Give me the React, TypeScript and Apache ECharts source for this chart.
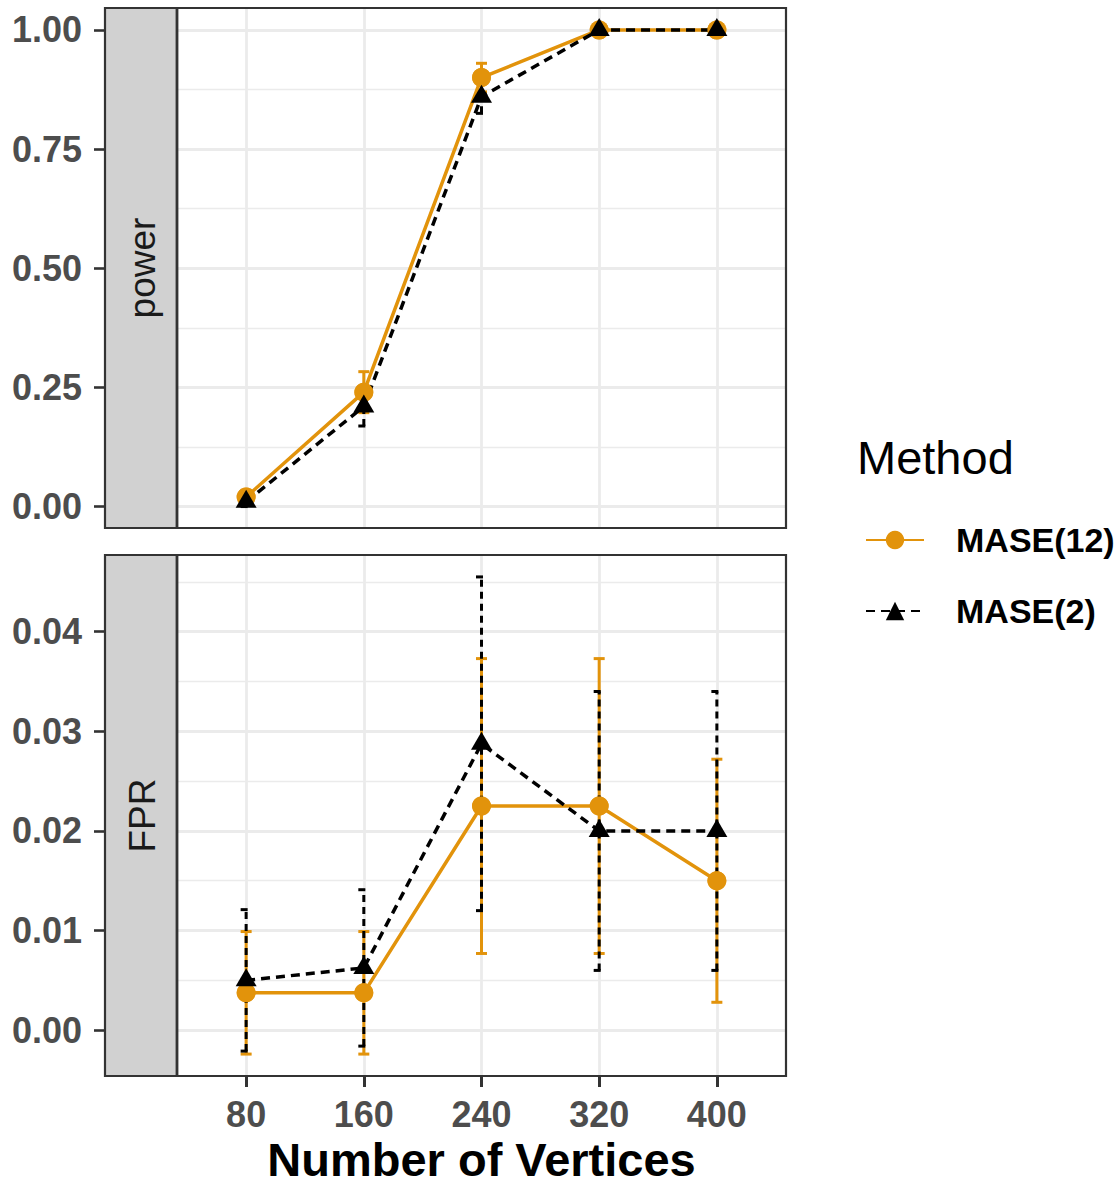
import React, { useEffect, useRef } from "react";
import * as echarts from "echarts";

const vertices = [80, 160, 240, 320, 400];

const powerMase12 = [0.02, 0.24, 0.9, 1.0, 1.0];
const powerMase12Lo = [0.006, 0.197, 0.87, 1.0, 1.0];
const powerMase12Hi = [0.034, 0.283, 0.93, 1.0, 1.0];
const powerMase2 = [0.01, 0.21, 0.86, 1.0, 1.0];
const powerMase2Lo = [0.0, 0.169, 0.825, 1.0, 1.0];
const powerMase2Hi = [0.02, 0.251, 0.895, 1.0, 1.0];

const fprMase12 = [0.00375, 0.00375, 0.0225, 0.0225, 0.015];
const fprMase12Lo = [-0.0024, -0.0024, 0.0077, 0.0077, 0.0028];
const fprMase12Hi = [0.0099, 0.0099, 0.0373, 0.0373, 0.0272];
const fprMase2 = [0.005, 0.00625, 0.02875, 0.02, 0.02];
const fprMase2Lo = [-0.0021, -0.0016, 0.012, 0.006, 0.006];
const fprMase2Hi = [0.0121, 0.0141, 0.0455, 0.034, 0.034];

const powerTicks = [0, 0.25, 0.5, 0.75, 1.0];
const powerMinorTicks = [0.125, 0.375, 0.625, 0.875];
const fprTicks = [0, 0.01, 0.02, 0.03, 0.04];
const fprMinorTicks = [0.005, 0.015, 0.025, 0.035, 0.045];

const methods = ["MASE(12)", "MASE(2)"];
const facetLabels = ["power", "FPR"];
const xTitle = "Number of Vertices";
const legendTitle = "Method";

const ORANGE = "#E2930B";
const BLACK = "#000000";
const FONT = "'Liberation Sans', Arial, Helvetica, sans-serif";
const GRID_COLOR = "#EBEBEB";
const BORDER = "#333333";

function pts(xs: number[], ys: number[]) {
  return xs.map((x, i) => [x, ys[i]]);
}
function bars(xs: number[], lo: number[], hi: number[]) {
  return xs.map((x, i) => [x, lo[i], hi[i]]);
}

function errorBarSeries(name: string, data: number[][], xi: number, yi: number, color: string, dashed: boolean) {
  return {
    type: "custom",
    name,
    xAxisIndex: xi,
    yAxisIndex: yi,
    silent: true,
    data,
    encode: { x: 0, y: [1, 2] },
    renderItem: (params: any, api: any) => {
      const x = api.value(0);
      const lo = api.value(1);
      const hi = api.value(2);
      const pLo = api.coord([x, lo]);
      const pHi = api.coord([x, hi]);
      const hw = 5.5;
      const style = {
        stroke: color,
        lineWidth: 3,
        lineDash: dashed ? [7, 5] : null,
        fill: null,
      };
      return {
        type: "group",
        children: [
          { type: "line", shape: { x1: pLo[0], y1: pLo[1], x2: pHi[0], y2: pHi[1] }, style },
          { type: "line", shape: { x1: pLo[0] - hw, y1: pLo[1], x2: pLo[0] + hw, y2: pLo[1] }, style },
          { type: "line", shape: { x1: pHi[0] - hw, y1: pHi[1], x2: pHi[0] + hw, y2: pHi[1] }, style },
        ],
      };
    },
  };
}

function lineSeries(name: string, data: number[][], xi: number, yi: number, isOrange: boolean) {
  return {
    type: "line",
    name,
    xAxisIndex: xi,
    yAxisIndex: yi,
    data,
    silent: true,
    symbol: isOrange ? "circle" : "triangle",
    symbolSize: isOrange ? 19 : [21, 18],
    symbolOffset: isOrange ? [0, 0] : [0, -3],
    showSymbol: true,
    lineStyle: isOrange
      ? { color: ORANGE, width: 3.5, type: "solid" }
      : { color: BLACK, width: 3.5, type: [9, 6] },
    itemStyle: { color: isOrange ? ORANGE : BLACK },
    emphasis: { disabled: true },
  };
}

function scatterTop(data: number[][], xi: number, yi: number) {
  return {
    type: "scatter",
    name: "MASE(12) points",
    xAxisIndex: xi,
    yAxisIndex: yi,
    data,
    silent: true,
    symbol: "circle",
    symbolSize: 19,
    itemStyle: { color: ORANGE },
    emphasis: { disabled: true },
  };
}

const PANEL_LEFT = 105;
const STRIP_RIGHT = 177;
const PANEL_RIGHT = 786;
const panels = [
  { top: 8, bottom: 528 },
  { top: 555, bottom: 1076 },
];

function xAxisCfg(gridIndex: number, showLabels: boolean) {
  return {
    type: "value",
    gridIndex,
    min: 33,
    max: 447,
    position: "bottom",
    axisLine: { show: false, onZero: false },
    axisTick: {
      show: showLabels,
      inside: false,
      customValues: vertices,
      length: 11,
      lineStyle: { color: BORDER, width: 3 },
    },
    axisLabel: {
      show: showLabels,
      customValues: vertices,
      fontSize: 36,
      fontWeight: "bold",
      color: "#4D4D4D",
      fontFamily: FONT,
      margin: 20,
    },
    splitLine: { show: true, lineStyle: { color: GRID_COLOR, width: 2.8 } },
    ...(showLabels
      ? {
          name: xTitle,
          nameLocation: "middle",
          nameGap: 60,
          nameTextStyle: { fontSize: 47, fontWeight: "bold", color: "#000", fontFamily: FONT },
        }
      : {}),
  };
}

function yAxisMajor(gridIndex: number, min: number, max: number, ticks: number[], digits: number) {
  return {
    type: "value",
    gridIndex,
    min,
    max,
    position: "left",
    offset: STRIP_RIGHT - PANEL_LEFT,
    axisLine: { show: false, onZero: false },
    axisTick: {
      show: true,
      customValues: ticks,
      length: 11,
      lineStyle: { color: BORDER, width: 2.6 },
    },
    axisLabel: {
      customValues: ticks,
      formatter: (v: number) => v.toFixed(digits),
      fontSize: 36,
      fontWeight: "bold",
      color: "#4D4D4D",
      fontFamily: FONT,
      margin: 23,
    },
    splitLine: { show: true, lineStyle: { color: GRID_COLOR, width: 2.8 } },
  };
}

function yAxisMinor(gridIndex: number, min: number, max: number, ticks: number[]) {
  return {
    type: "value",
    gridIndex,
    min,
    max,
    position: "left",
    axisLine: { show: false, onZero: false },
    axisTick: { show: false, customValues: ticks },
    axisLabel: { show: false, customValues: ticks },
    splitLine: { show: true, lineStyle: { color: GRID_COLOR, width: 1.4 } },
  };
}

export default function App() {
  const ref = useRef<HTMLDivElement>(null);
  useEffect(() => {
    document.body.style.margin = "0";
    if (!ref.current) return;
    const chart = echarts.init(ref.current, undefined, { renderer: "svg" });

    const graphics: any[] = [];
    panels.forEach((p, i) => {
      graphics.push({
        type: "rect",
        z: 0,
        shape: { x: PANEL_LEFT, y: p.top, width: STRIP_RIGHT - PANEL_LEFT, height: p.bottom - p.top },
        style: { fill: "#D1D1D1", stroke: null },
        silent: true,
      });
      graphics.push({
        type: "line",
        z: 100,
        shape: { x1: STRIP_RIGHT, y1: p.top, x2: STRIP_RIGHT, y2: p.bottom },
        style: { stroke: BORDER, lineWidth: 2.8 },
        silent: true,
      });
      graphics.push({
        type: "rect",
        z: 100,
        shape: { x: PANEL_LEFT, y: p.top, width: PANEL_RIGHT - PANEL_LEFT, height: p.bottom - p.top },
        style: { fill: null, stroke: BORDER, lineWidth: 2.2 },
        silent: true,
      });
      graphics.push({
        type: "text",
        z: 101,
        x: (PANEL_LEFT + STRIP_RIGHT) / 2 + 1,
        y: (p.top + p.bottom) / 2,
        rotation: Math.PI / 2,
        style: {
          text: facetLabels[i],
          fontSize: 37,
          fill: "#1A1A1A",
          align: "center",
          verticalAlign: "middle",
          fontFamily: FONT,
        },
        silent: true,
      });
    });
    graphics.push({
      type: "text",
      z: 101,
      x: 857,
      y: 457,
      style: {
        text: legendTitle,
        fontSize: 47,
        fill: "#000",
        align: "left",
        verticalAlign: "middle",
        fontFamily: FONT,
      },
      silent: true,
    });

    const option: any = {
      animation: false,
      backgroundColor: "#ffffff",
      textStyle: { fontFamily: FONT },
      grid: panels.map((p) => ({
        left: STRIP_RIGHT,
        top: p.top,
        width: PANEL_RIGHT - STRIP_RIGHT,
        height: p.bottom - p.top,
        containLabel: false,
      })),
      xAxis: [xAxisCfg(0, false), xAxisCfg(1, true)],
      yAxis: [
        yAxisMajor(0, -0.045, 1.046, powerTicks, 2),
        yAxisMinor(0, -0.045, 1.046, powerMinorTicks),
        yAxisMajor(1, -0.0046, 0.0477, fprTicks, 2),
        yAxisMinor(1, -0.0046, 0.0477, fprMinorTicks),
      ],
      legend: {
        data: methods,
        orient: "vertical",
        left: 860,
        top: 515,
        padding: 5,
        itemWidth: 58,
        itemHeight: 23,
        itemGap: 31,
        selectedMode: false,
        textStyle: {
          fontSize: 34,
          fontWeight: "bold",
          color: "#000",
          fontFamily: FONT,
          lineHeight: 40,
          padding: [0, 0, 0, 27],
        },
      },
      graphic: graphics,
      series: [
        errorBarSeries("eb12p", bars(vertices, powerMase12Lo, powerMase12Hi), 0, 0, ORANGE, false),
        errorBarSeries("eb2p", bars(vertices, powerMase2Lo, powerMase2Hi), 0, 0, BLACK, true),
        errorBarSeries("eb12f", bars(vertices, fprMase12Lo, fprMase12Hi), 1, 2, ORANGE, false),
        errorBarSeries("eb2f", bars(vertices, fprMase2Lo, fprMase2Hi), 1, 2, BLACK, true),
        lineSeries(methods[0], pts(vertices, powerMase12), 0, 0, true),
        lineSeries(methods[0], pts(vertices, fprMase12), 1, 2, true),
        lineSeries(methods[1], pts(vertices, powerMase2), 0, 0, false),
        lineSeries(methods[1], pts(vertices, fprMase2), 1, 2, false),
        scatterTop(pts(vertices, powerMase12), 0, 0),
        scatterTop(pts(vertices, fprMase12), 1, 2),
      ],
    };
    chart.setOption(option);
    return () => chart.dispose();
  }, []);
  return <div ref={ref} style={{ width: 1120, height: 1185 }} />;
}
